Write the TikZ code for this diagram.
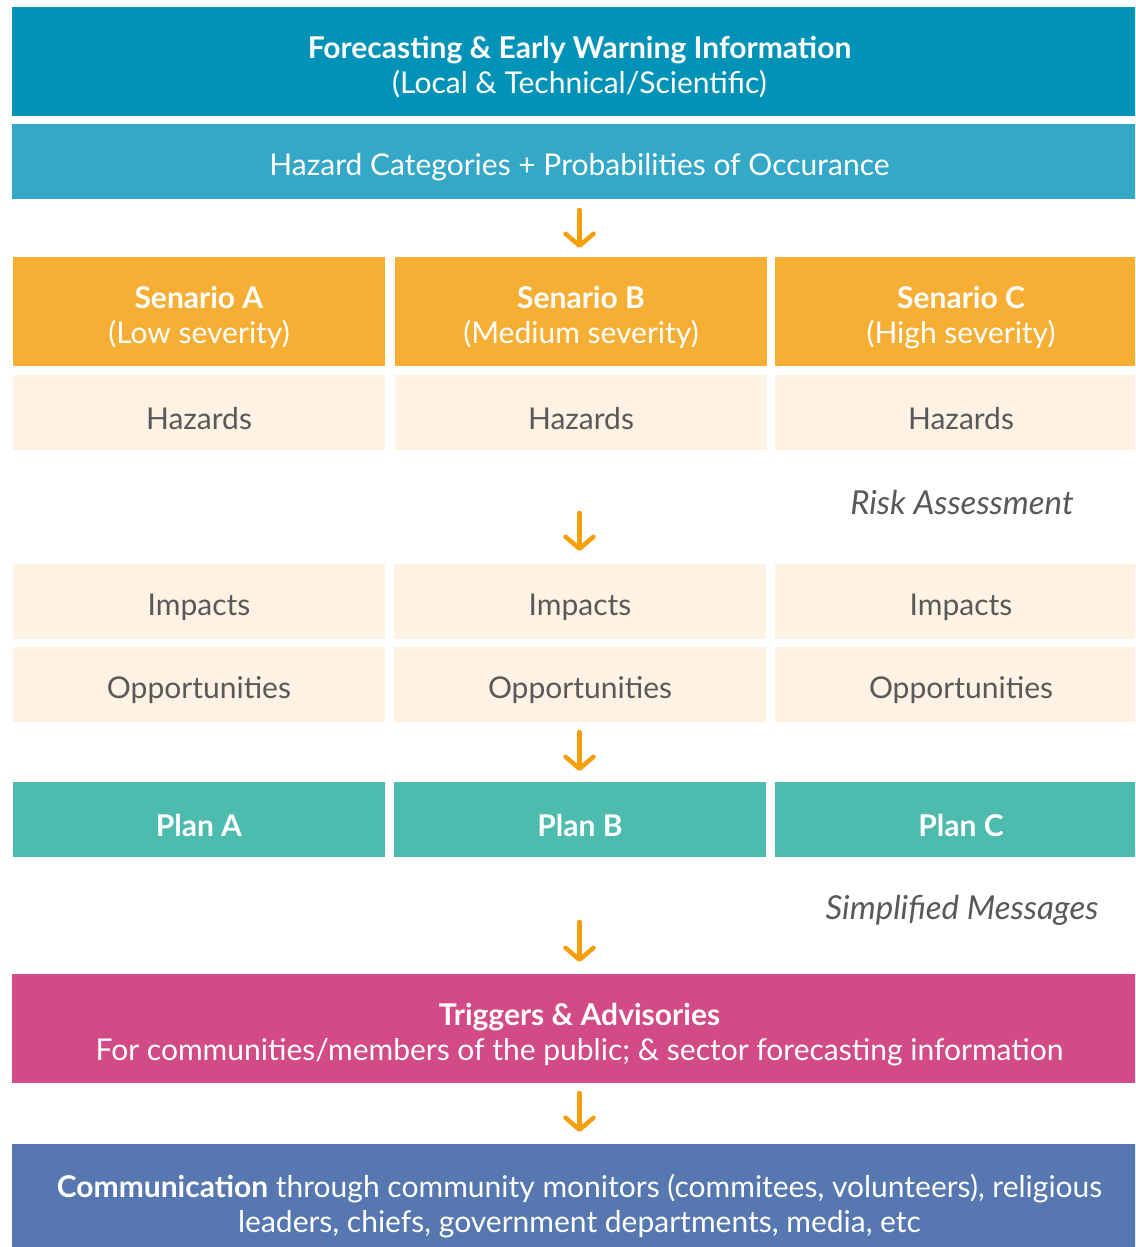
\documentclass[tikz,border=0pt]{standalone}
\usepackage{fontspec}
\setmainfont{Lato}
\usetikzlibrary{arrows.meta}
\definecolor{cTop}{RGB}{0,147,183}
\definecolor{cCat}{RGB}{52,168,198}
\definecolor{cOrange}{RGB}{246,175,52}
\definecolor{cCream}{RGB}{253,242,228}
\definecolor{cTeal}{RGB}{77,187,173}
\definecolor{cPink}{RGB}{210,75,134}
\definecolor{cBlue}{RGB}{86,119,175}
\definecolor{cGray}{RGB}{89,89,89}
\definecolor{cArrow}{RGB}{245,160,10}
\tikzset{
  box/.style={rectangle, inner sep=0pt, outer sep=0pt},
  txt/.style={inner sep=0pt, align=center, yshift=-6pt, font=\fontsize{30}{35}\selectfont},
  wide/.style={box, minimum width=1135pt},
  col/.style={box, minimum width=372pt},
  wt/.style={txt, text=white},
  gt/.style={txt, text=cGray},
  lightbox/.style={fill=cCream},
  arr/.style={draw=cArrow, line width=4.5pt, line cap=round, -{Straight Barb[length=12pt,width=28pt,round]}},
  note/.style={font=\fontsize{33}{36}\selectfont\itshape, text=cGray, inner sep=0pt}
}
\begin{document}
\begin{tikzpicture}[x=1pt,y=-1pt]
\useasboundingbox (0,0) rectangle (1135,1247);
\clip (0,0) rectangle (1135,1247);
\fill[white] (0,0) rectangle (1135,1247);
% top boxes
\node[wide, fill=cTop, minimum height=109pt, label={[wt]center:\textbf{Forecasting \& Early Warning Information}\\(Local \& Technical/Scientific)}] (top) at (579.5,61.5) {};
\node[wide, fill=cCat, minimum height=75pt, label={[wt]center:Hazard Categories + Probabilities of Occurance}] (cat) at (579.5,161.5) {};
% scenarios
\node[col, fill=cOrange, minimum height=109pt, label={[wt]center:\textbf{Senario A}\\(Low severity)}] (scA) at (199,311.5) {};
\node[col, fill=cOrange, minimum height=109pt, label={[wt]center:\textbf{Senario B}\\(Medium severity)}] (scB) at (581,311.5) {};
\node[col, fill=cOrange, minimum height=109pt, label={[wt]center:\textbf{Senario C}\\(High severity)}] (scC) at (961,311.5) {};
% hazards
\node[col, lightbox, minimum height=75pt, label={[gt]center:Hazards}] (hzA) at (199,412.5) {};
\node[col, lightbox, minimum height=75pt, label={[gt]center:Hazards}] (hzB) at (581,412.5) {};
\node[col, lightbox, minimum height=75pt, label={[gt]center:Hazards}] (hzC) at (961,412.5) {};
\node[note] (risk) at (962,502) {Risk Assessment};
% impacts
\node[col, lightbox, minimum height=75pt, label={[gt]center:Impacts}] (imA) at (199,601.5) {};
\node[col, lightbox, minimum height=75pt, label={[gt]center:Impacts}] (imB) at (580,601.5) {};
\node[col, lightbox, minimum height=75pt, label={[gt]center:Impacts}] (imC) at (961,601.5) {};
% opportunities
\node[col, lightbox, minimum height=75pt, label={[gt]center:Opportunities}] (opA) at (199,684.5) {};
\node[col, lightbox, minimum height=75pt, label={[gt]center:Opportunities}] (opB) at (580,684.5) {};
\node[col, lightbox, minimum height=75pt, label={[gt]center:Opportunities}] (opC) at (961,684.5) {};
% plans
\node[col, fill=cTeal, minimum height=75pt, label={[wt]center:\textbf{Plan A}}] (plA) at (199,819.5) {};
\node[col, fill=cTeal, minimum height=75pt, label={[wt]center:\textbf{Plan B}}] (plB) at (580,819.5) {};
\node[col, fill=cTeal, minimum height=75pt, label={[wt]center:\textbf{Plan C}}] (plC) at (961,819.5) {};
\node[note] (simp) at (962,910) {Simplified Messages};
% triggers
\node[wide, fill=cPink, minimum height=109pt, label={[wt]center:\textbf{Triggers \& Advisories}\\For communities/members of the public; \& sector forecasting information}] (trig) at (579.5,1028.5) {};
% communication
\node[wide, fill=cBlue, minimum height=119pt, label={[wt, yshift=3pt]center:\textbf{Communication} through community monitors (commitees, volunteers), religious\\leaders, chiefs, government departments, media, etc}] (comm) at (579.5,1203.5) {};
% arrows
\draw[arr, shorten <=11pt, shorten >=9pt] (cat.south) -- (cat.south |- scB.north);
\draw[arr, shorten <=63pt, shorten >=13pt] (cat.south |- hzB.south) -- (cat.south |- imB.north);
\draw[arr, shorten <=10pt, shorten >=11pt] (cat.south |- opB.south) -- (cat.south |- plB.north);
\draw[arr, shorten <=65pt, shorten >=12pt] (plB.south -| cat.south) -- (cat.south |- trig.north);
\draw[arr, shorten <=10pt, shorten >=12pt] (trig.south) -- (comm.north);
\end{tikzpicture}
\end{document}
